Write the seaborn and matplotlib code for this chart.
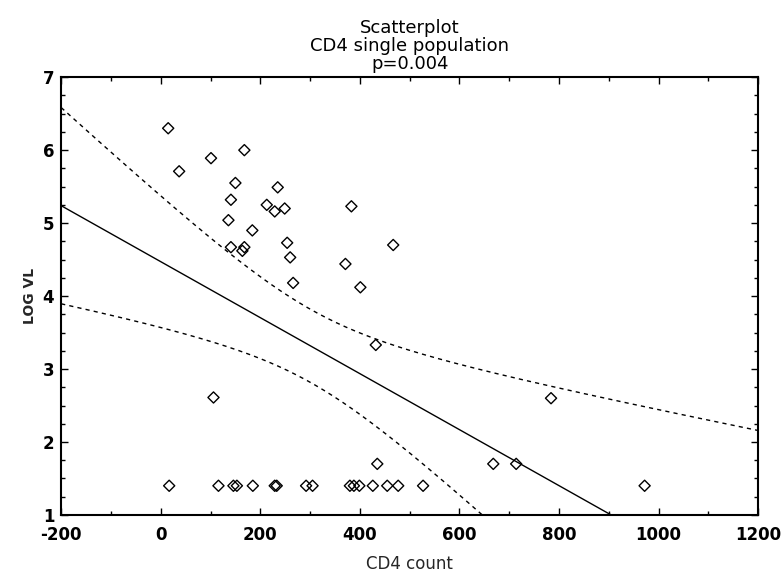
"""Scatterplot of log viral load against CD4 count with linear fit and 95% bands."""

import matplotlib.pyplot as plt
import numpy as np
import pandas as pd
import seaborn as sns
from matplotlib.ticker import MultipleLocator

# values
cd4_count = [
    15, 37, 101, 168, 150, 141, 136, 141, 164, 168, 184, 213, 229, 249, 235,
    254, 260, 266, 383, 371, 467, 401, 432, 106, 435, 668, 714, 784,
    17, 116, 146, 153, 185, 229, 233, 292, 305, 380, 388, 399, 426, 455, 477,
    527, 972,
]
log_vl = [
    6.30, 5.71, 5.89, 6.00, 5.55, 5.32, 5.04, 4.67, 4.62, 4.67, 4.90, 5.25,
    5.16, 5.20, 5.49, 4.73, 4.53, 4.18, 5.23, 4.44, 4.70, 4.12, 3.33, 2.61,
    1.70, 1.70, 1.70, 2.60,
    1.40, 1.40, 1.40, 1.40, 1.40, 1.40, 1.40, 1.40, 1.40, 1.40, 1.40, 1.40,
    1.40, 1.40, 1.40, 1.40, 1.40,
]

title_lines = ["Scatterplot", "CD4 single population", "p=0.004"]
x_label = "CD4 count"
y_label = "LOG VL"


def fit_with_bands(x, y, grid):
    x = np.asarray(x, float)
    y = np.asarray(y, float)
    n = len(x)
    slope, intercept = np.polyfit(x, y, 1)
    resid = y - (intercept + slope * x)
    s = np.sqrt(np.sum(resid ** 2) / (n - 2))
    sxx = np.sum((x - x.mean()) ** 2)
    t = 2.0141  # t(0.975, 43)
    fit = intercept + slope * grid
    half = t * s * np.sqrt(1.0 / n + (grid - x.mean()) ** 2 / sxx)
    return fit, fit - half, fit + half


def main():
    sns.set_style("white")
    plt.rcParams["axes.unicode_minus"] = False
    df = pd.DataFrame({x_label: cd4_count, y_label: log_vl})

    fig = plt.figure(figsize=(7.84, 5.76), dpi=100)
    ax = fig.add_axes([0.078, 0.106, 0.889, 0.760])

    grid = np.linspace(-200, 1200, 300)
    fit, lower, upper = fit_with_bands(cd4_count, log_vl, grid)
    ax.plot(grid, fit, color="black", lw=1.0)
    ax.plot(grid, lower, color="black", lw=1.0, ls=(0, (3, 3)))
    ax.plot(grid, upper, color="black", lw=1.0, ls=(0, (3, 3)))

    sns.scatterplot(
        data=df, x=x_label, y=y_label, ax=ax, marker="D", s=32,
        facecolor="none", edgecolor="black", linewidth=1.0, zorder=3,
    )

    ax.set_xlim(-200, 1200)
    ax.set_ylim(1, 7)
    ax.xaxis.set_major_locator(MultipleLocator(200))
    ax.xaxis.set_minor_locator(MultipleLocator(100))
    ax.yaxis.set_major_locator(MultipleLocator(1))
    ax.yaxis.set_minor_locator(MultipleLocator(0.25))
    ax.tick_params(which="both", direction="in", top=True, right=True,
                   bottom=True, left=True, colors="black")
    ax.tick_params(which="major", length=5, width=1, labelsize=12)
    ax.tick_params(axis="x", which="major", pad=8)
    ax.tick_params(axis="y", which="major", pad=5)
    ax.tick_params(which="minor", length=3, width=1)
    for lab in ax.get_xticklabels() + ax.get_yticklabels():
        lab.set_fontweight("bold")
    for sp in ax.spines.values():
        sp.set_color("black")
        sp.set_linewidth(1.5)

    ax.set_xlabel(x_label, fontsize=12, labelpad=8)
    ax.set_ylabel(y_label, fontsize=10, fontweight="bold")
    ax.set_title("\n".join(title_lines), fontsize=13, linespacing=1.0,
                 pad=6, color="black")

    fig.savefig("out.png", dpi=100)
    plt.close(fig)


if __name__ == "__main__":
    main()
